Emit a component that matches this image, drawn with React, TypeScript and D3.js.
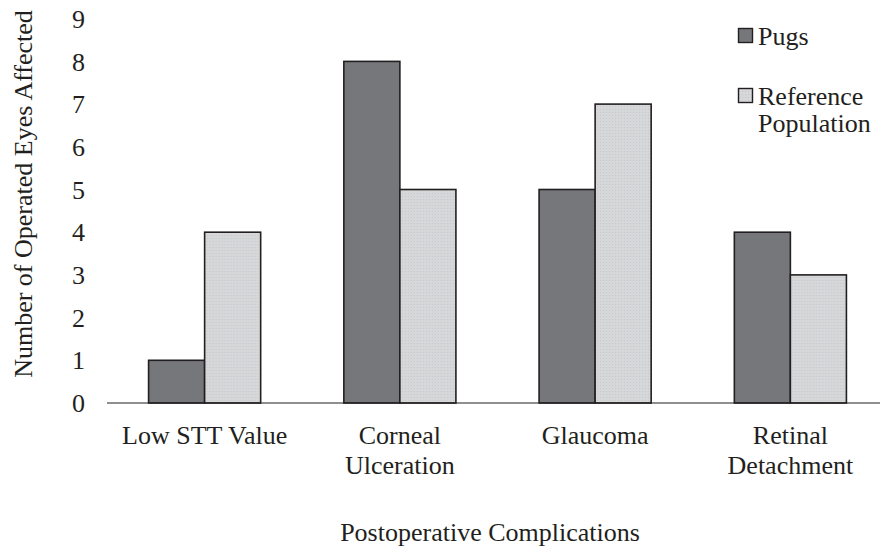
import React, { useEffect, useRef } from "react";
import * as d3 from "d3";

const categories = ["Low STT Value", "Corneal Ulceration", "Glaucoma", "Retinal Detachment"];
const categoryLines = [["Low STT Value"], ["Corneal", "Ulceration"], ["Glaucoma"], ["Retinal", "Detachment"]];
const seriesNames = ["Pugs", "Reference Population"];
const pugs = [1, 8, 5, 4];
const reference = [4, 5, 7, 3];
const yTicks = [0, 1, 2, 3, 4, 5, 6, 7, 8, 9];

const width = 880;
const height = 547;
const font = "'Liberation Serif', 'Times New Roman', serif";
const ink = "#231f20";
const fills = ["#76777b", "url(#dots)"];

export default function App() {
  const ref = useRef<SVGSVGElement>(null);

  useEffect(() => {
    const svg = d3.select(ref.current);
    svg.selectAll("*").remove();

    // light bars have a fine grainy texture
    const pat = svg.append("defs").append("pattern")
      .attr("id", "dots")
      .attr("width", 3).attr("height", 3)
      .attr("patternUnits", "userSpaceOnUse");
    pat.append("rect").attr("width", 3).attr("height", 3).attr("fill", "#d6d7d9");
    pat.append("rect").attr("x", 1).attr("y", 1).attr("width", 1).attr("height", 1).attr("fill", "#c6c7ca");

    const x0 = d3.scaleBand<string>()
      .domain(categories)
      .range([107, 888])
      .paddingInner(0.426)
      .paddingOuter(0.213);

    const x1 = d3.scaleBand<string>()
      .domain(seriesNames)
      .range([0, x0.bandwidth()]);

    const y = d3.scaleLinear().domain([0, 9]).range([403, 18.7]);

    // y tick labels
    svg.append("g")
      .selectAll("text")
      .data(yTicks)
      .enter().append("text")
      .attr("x", 85)
      .attr("y", (d) => y(d))
      .attr("dy", "0.35em")
      .attr("text-anchor", "end")
      .style("font", `26px ${font}`)
      .attr("fill", ink)
      .text((d) => d);

    // bars
    const values = [pugs, reference];
    const groups = svg.append("g")
      .selectAll("g")
      .data(categories)
      .enter().append("g")
      .attr("transform", (d) => `translate(${x0(d)},0)`);

    groups.selectAll("rect")
      .data((d, i) => seriesNames.map((s, j) => ({ s, j, v: values[j][i] })))
      .enter().append("rect")
      .attr("x", (d) => x1(d.s)!)
      .attr("y", (d) => y(d.v))
      .attr("width", x1.bandwidth())
      .attr("height", (d) => y(0) - y(d.v))
      .attr("fill", (d) => fills[d.j])
      .attr("stroke", ink)
      .attr("stroke-width", 1.6);

    // x axis line
    svg.append("line")
      .attr("x1", 107).attr("x2", 888)
      .attr("y1", y(0)).attr("y2", y(0))
      .attr("stroke", ink)
      .attr("stroke-width", 1.2);

    // category labels
    svg.append("g")
      .selectAll("text")
      .data(categories)
      .enter().append("text")
      .attr("x", (d) => x0(d)! + x0.bandwidth() / 2)
      .attr("y", 444)
      .attr("text-anchor", "middle")
      .style("font", `26px ${font}`)
      .attr("fill", ink)
      .each(function (d, i) {
        const t = d3.select(this);
        categoryLines[i].forEach((line, k) => {
          t.append("tspan")
            .attr("x", x0(d)! + x0.bandwidth() / 2)
            .attr("dy", k === 0 ? 0 : 30)
            .text(line);
        });
      });

    // axis titles
    svg.append("text")
      .attr("x", 490)
      .attr("y", 541)
      .attr("text-anchor", "middle")
      .style("font", `26px ${font}`)
      .attr("fill", ink)
      .text("Postoperative Complications");

    svg.append("text")
      .attr("transform", `translate(32,194) rotate(-90)`)
      .attr("text-anchor", "middle")
      .style("font", `26px ${font}`)
      .attr("fill", ink)
      .text("Number of Operated Eyes Affected");

    // legend
    const legend = [
      { lines: ["Pugs"], top: 28.5, base: 45 },
      { lines: ["Reference", "Population"], top: 88.5, base: 105 },
    ];
    legend.forEach((item, j) => {
      svg.append("rect")
        .attr("x", 738.5).attr("y", item.top)
        .attr("width", 14).attr("height", 14)
        .attr("fill", fills[j])
        .attr("stroke", ink)
        .attr("stroke-width", 1.4);
      const t = svg.append("text")
        .attr("y", item.base)
        .style("font", `26px ${font}`)
        .attr("fill", ink);
      item.lines.forEach((line, k) => {
        t.append("tspan").attr("x", 758).attr("dy", k === 0 ? 0 : 27).text(line);
      });
    });
  }, []);

  return (
    <svg
      ref={ref}
      width={width}
      height={height}
      style={{ position: "absolute", left: 0, top: 0, background: "#fff" }}
    />
  );
}
